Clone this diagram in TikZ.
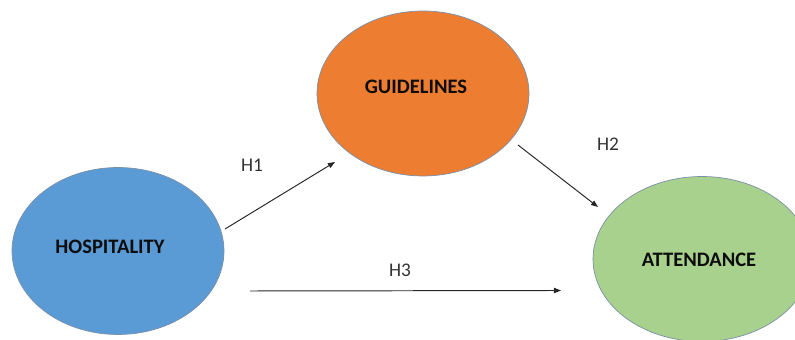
\documentclass[tikz,border=0pt]{standalone}
\usepackage{fontspec}
\setmainfont{Carlito}
\usetikzlibrary{arrows.meta, shapes.geometric}
\definecolor{hospblue}{HTML}{5B9BD5}
\definecolor{guidorange}{HTML}{ED7D31}
\definecolor{attgreen}{HTML}{A9D18E}
\definecolor{rim}{HTML}{7A8FA8}

\begin{document}
\begin{tikzpicture}[x=0.02cm, y=-0.02cm,
  concept/.style={ellipse, draw=rim, line width=0.4pt, inner sep=0pt, minimum width=4.24cm},
  caption/.style={font=\fontsize{11.7}{14}\selectfont\bfseries, text=black!95},
  hyp/.style={font=\fontsize{11}{13}\selectfont, text=black!80},
  link/.style={draw=black!85, line width=0.55pt, -{Triangle[length=4pt,width=3pt]}}]
\useasboundingbox (0,0) rectangle (795,340);
% the three constructs
\node[concept, fill=hospblue, minimum height=3.34cm] (hosp) at (118,251) {};
\node[concept, fill=guidorange, minimum height=3.3cm] (guid) at (423,93.5) {};
\node[concept, fill=attgreen, minimum width=4.36cm, minimum height=3.3cm] (att) at (702,259) {};
\node[caption] (hosptext) at (110,247) {HOSPITALITY};
\node[caption] (guidtext) at (416,87) {GUIDELINES};
\node[caption] (atttext) at (699,260) {ATTENDANCE};
% free ends of the hypothesis arrows
\coordinate (h1from) at (225,229);
\coordinate (h1to) at (335,162);
\coordinate (h2from) at (518,145);
\coordinate (h2to) at (598,207);
\coordinate (h3from) at (250,291);
\coordinate (h3to) at (561,290.5);
\draw[link] (h1from) -- (h1to);
\draw[link] (h2from) -- (h2to);
\draw[link] (h3from) -- (h3to);
\node[hyp] (h1) at (252,165) {H1};
\node[hyp] (h2) at (608,144) {H2};
\node[hyp] (h3) at (400,270) {H3};
\end{tikzpicture}
\end{document}
